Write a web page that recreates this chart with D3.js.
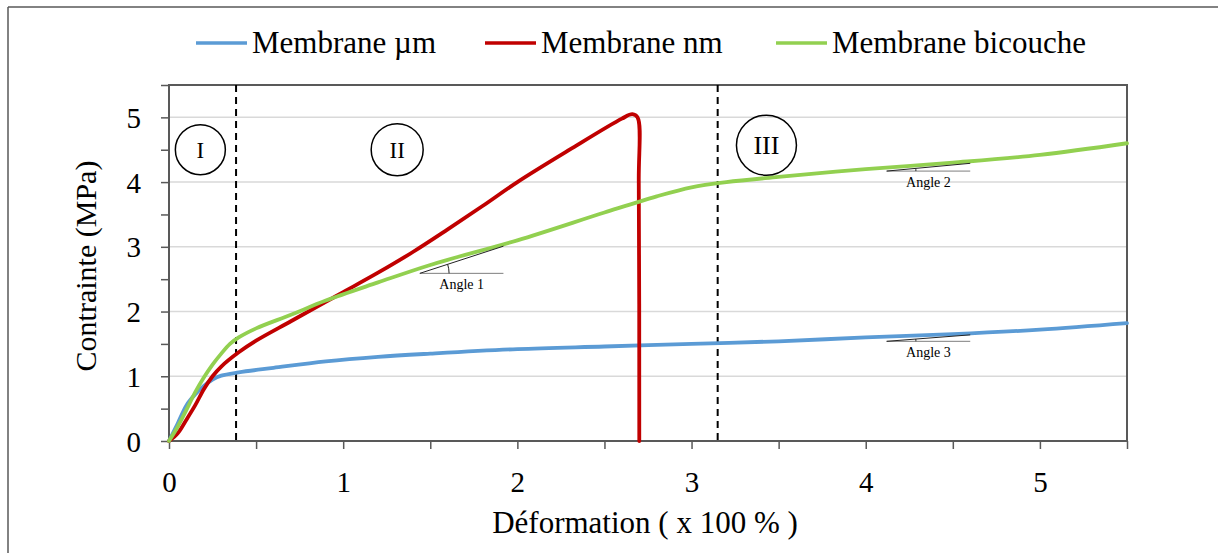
<!DOCTYPE html>
<html><head><meta charset="utf-8">
<script src="https://cdn.jsdelivr.net/npm/d3@7/dist/d3.min.js"></script>
<style>
html,body{margin:0;padding:0;background:#fff;}
svg{display:block;font-family:"Liberation Serif","DejaVu Serif",serif;}
</style></head>
<body>
<svg id="chart" width="1218" height="553"></svg>
<script>
// ---- data ----
const seriesNames = ["Membrane µm", "Membrane nm", "Membrane bicouche"];
const seriesColors = ["#5b9bd5", "#c00000", "#92d050"];
const strainMicro = [0,0.05,0.1,0.15,0.2,0.25,0.3,0.4,0.6,0.9,1.2,1.5,2,2.5,3,3.5,4,4.5,5,5.5];
const stressMicro = [0,0.27,0.55,0.72,0.85,0.95,1.01,1.06,1.13,1.23,1.3,1.35,1.42,1.46,1.5,1.54,1.6,1.65,1.72,1.82];
const strainNano = [0,0.05,0.1,0.15,0.2,0.25,0.3,0.4,0.5,0.7,0.9,1,1.2,1.4,1.6,1.8,2,2.3,2.6,2.66,2.69,2.697,2.7];
const stressNano = [0,0.12,0.33,0.55,0.8,1.0,1.15,1.37,1.55,1.85,2.15,2.3,2.6,2.92,3.27,3.63,4.0,4.5,4.98,5.05,5.0,4.0,0];
const strainBi = [0,0.05,0.1,0.15,0.2,0.25,0.3,0.35,0.4,0.5,0.7,0.9,1.2,1.5,2,2.5,2.8,3,3.2,3.5,4,4.5,5,5.5];
const stressBi = [0,0.22,0.48,0.75,0.98,1.18,1.35,1.5,1.6,1.74,1.95,2.17,2.45,2.72,3.1,3.53,3.78,3.92,4.0,4.08,4.2,4.3,4.42,4.6];
const xTickValues = [0,0.5,1,1.5,2,2.5,3,3.5,4,4.5,5,5.5];
const yTickValues = [0,0.5,1,1.5,2,2.5,3,3.5,4,4.5,5,5.5];
const gridValues = [1,2,3,4,5];
const zoneBounds = [0.385, 3.15];
const zoneLabels = ["I", "II", "III"];
const zoneCenters = [[0.18, 4.5], [1.31, 4.5], [3.43, 4.57]];
const zoneRadii = [25, 26, 30];
const angleLabels = ["Angle 1", "Angle 2", "Angle 3"];
// [x0, y0, x1, y1 tangent end]
const angleLines = [[1.44, 2.59, 1.92, 3.01], [4.12, 4.17, 4.6, 4.29], [4.12, 1.54, 4.6, 1.64]];
const xTitle = "Déformation ( x 100 % )";
const yTitle = "Contrainte (MPa)";

// ---- layout ----
const svg = d3.select("#chart");
const L = 169, R = 1127, T = 85, B = 441;
const x = d3.scaleLinear().domain([0, 5.5]).range([L, R]);
const y = d3.scaleLinear().domain([0, 5.5]).range([B, T]);
const axisColor = "#595959";

// outer frame (left & top)
svg.append("line").attr("x1", 8).attr("y1", 7).attr("x2", 8).attr("y2", 553).attr("stroke", "#595959").attr("stroke-width", 1.5);
svg.append("line").attr("x1", 8).attr("y1", 7).attr("x2", 1218).attr("y2", 7).attr("stroke", "#595959").attr("stroke-width", 1.5);

// gridlines
svg.append("g").selectAll("line").data(gridValues).join("line")
  .attr("x1", L).attr("x2", R).attr("y1", d => y(d)).attr("y2", d => y(d))
  .attr("stroke", "#d9d9d9").attr("stroke-width", 1.5);

// axes
const fmt = d => Number.isInteger(d) ? d : "";
const xAxis = svg.append("g").attr("transform", `translate(0,${B})`)
  .call(d3.axisBottom(x).tickValues(xTickValues).tickFormat(fmt).tickSize(8).tickPadding(24));
const yAxis = svg.append("g").attr("transform", `translate(${L},0)`)
  .call(d3.axisLeft(y).tickValues(yTickValues).tickFormat(fmt).tickSize(8).tickPadding(20));
[xAxis, yAxis].forEach(g => {
  g.select(".domain").remove();
  g.selectAll("line").attr("stroke", axisColor).attr("stroke-width", 1.5);
  g.selectAll("text").attr("fill", "#000").style("font-size", "29px").style("font-family", "Liberation Serif");
});
yAxis.selectAll("text").attr("dy", "0.35em");
xAxis.selectAll("text").attr("dy", "0.71em").attr("y", 30);

// plot box
svg.append("rect").attr("x", L).attr("y", T).attr("width", R - L).attr("height", B - T)
  .attr("fill", "none").attr("stroke", axisColor).attr("stroke-width", 2);

// zone dashed separators
svg.append("g").selectAll("line").data(zoneBounds).join("line")
  .attr("x1", d => x(d)).attr("x2", d => x(d)).attr("y1", T).attr("y2", B)
  .attr("stroke", "#000").attr("stroke-width", 2).attr("stroke-dasharray", "7,5");

// series
const lineGen = d3.line().x(d => x(d[0])).y(d => y(d[1])).curve(d3.curveCatmullRom.alpha(0.5));
const series = [
  d3.zip(strainMicro, stressMicro),
  d3.zip(strainNano, stressNano),
  d3.zip(strainBi, stressBi)
];
[0, 1, 2].forEach(i => {
  svg.append("path").datum(series[i]).attr("d", lineGen)
    .attr("fill", "none").attr("stroke", seriesColors[i]).attr("stroke-width", 3.8)
    .attr("stroke-linejoin", "round").attr("stroke-linecap", "round");
});

// zone circles
zoneCenters.forEach((c, i) => {
  svg.append("circle").attr("cx", x(c[0])).attr("cy", y(c[1])).attr("r", zoneRadii[i])
    .attr("fill", "none").attr("stroke", "#000").attr("stroke-width", 1.5);
  svg.append("text").attr("x", x(c[0])).attr("y", y(c[1])).attr("dy", "0.35em")
    .attr("text-anchor", "middle").style("font-size", zoneRadii[i] > 27 ? "26px" : "23px").text(zoneLabels[i]);
});

// angle annotations
angleLines.forEach((a, i) => {
  const g = svg.append("g");
  g.append("line").attr("x1", x(a[0])).attr("y1", y(a[1])).attr("x2", x(a[2])).attr("y2", y(a[1]))
    .attr("stroke", "#7f7f7f").attr("stroke-width", 1);
  g.append("line").attr("x1", x(a[0])).attr("y1", y(a[1])).attr("x2", x(a[2])).attr("y2", y(a[3]))
    .attr("stroke", "#222").attr("stroke-width", 1);
  const r = x(a[0] + (a[2] - a[0]) * 0.35) - x(a[0]);
  const ang = Math.atan2(y(a[1]) - y(a[3]), x(a[2]) - x(a[0]));
  const cx = x(a[0]), cy = y(a[1]);
  g.append("path").attr("d", `M${cx + r},${cy} A${r},${r} 0 0 0 ${cx + r * Math.cos(ang)},${cy - r * Math.sin(ang)}`)
    .attr("fill", "none").attr("stroke", "#222").attr("stroke-width", 1);
  g.append("text").attr("x", x((a[0] + a[2]) / 2)).attr("y", y(a[1]) + 16)
    .attr("text-anchor", "middle").style("font-size", "14px").text(angleLabels[i]);
});

// axis titles
svg.append("text").attr("x", (L + R) / 2 - 3).attr("y", 533).attr("text-anchor", "middle")
  .style("font-size", "31px").text(xTitle);
svg.append("text").attr("transform", `translate(96,266) rotate(-90)`).attr("text-anchor", "middle")
  .style("font-size", "30px").text(yTitle);

// legend
const legendX = [196, 485, 776];
const leg = svg.append("g");
seriesNames.forEach((n, i) => {
  leg.append("line").attr("x1", legendX[i]).attr("x2", legendX[i] + 51).attr("y1", 43).attr("y2", 43)
    .attr("stroke", seriesColors[i]).attr("stroke-width", 3.5);
  leg.append("text").attr("x", legendX[i] + 56).attr("y", 53).style("font-size", "31px").text(n);
});
</script>
</body></html>
